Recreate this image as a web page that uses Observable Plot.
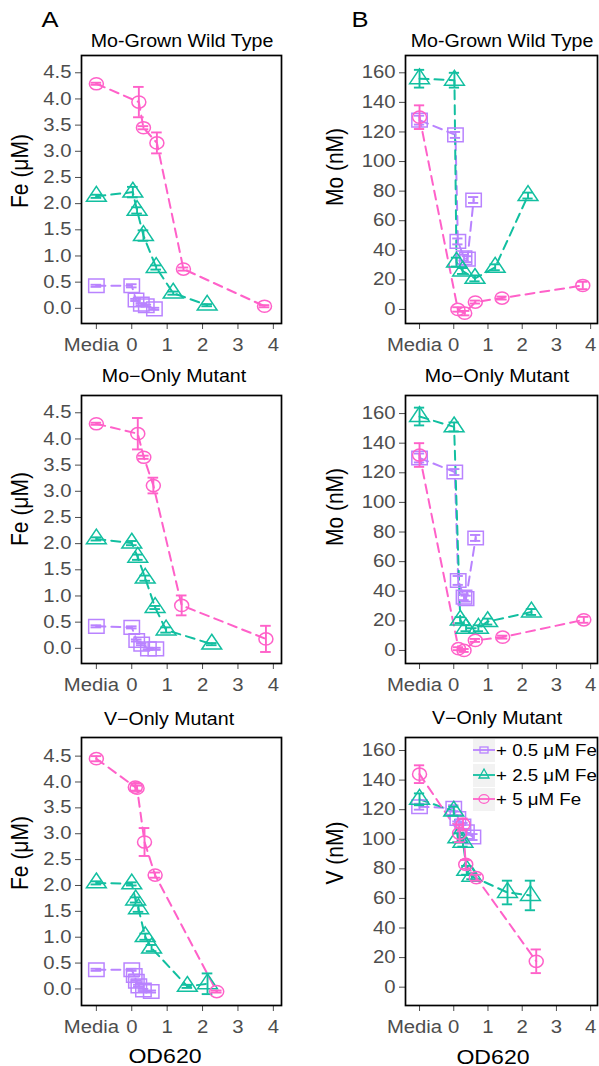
<!DOCTYPE html>
<html><head><meta charset="utf-8">
<script src="https://cdn.jsdelivr.net/npm/d3@7"></script>
<script src="https://cdn.jsdelivr.net/npm/@observablehq/plot@0.6"></script>
<style>
body{margin:0;background:#fff;}
#wrap{position:relative;width:599px;height:1066px;overflow:hidden;font-family:"Liberation Sans",Arial,Helvetica,sans-serif;background:#fff;}
.lbl{position:absolute;white-space:nowrap;color:#000;line-height:1;}
.pl{position:absolute;}
</style></head><body><div id="wrap"></div><script>
// ---------- shared ----------
const xTicks = [-1, 0, 1, 2, 3, 4];
const xTickLabels = ["Media", "0", "1", "2", "3", "4"];
const feTicks = [0, 0.5, 1, 1.5, 2, 2.5, 3, 3.5, 4, 4.5];
const nmTicks = [0, 20, 40, 60, 80, 100, 120, 140, 160];
const seriesNames = ["+ 0.5 μM Fe", "+ 2.5 μM Fe", "+ 5 μM Fe"];
const seriesColors = ["#B983FF", "#12BFA0", "#FF61C9"];
const panelTitles = ["Mo-Grown Wild Type", "Mo−Only Mutant", "V−Only Mutant"];

// ---------- A1: Fe, Mo-Grown Wild Type ----------
const a1_p05_x = [-1, 0.0, 0.12, 0.27, 0.41, 0.64];
const a1_p05_y = [0.43, 0.43, 0.16, 0.08, 0.05, -0.01];
const a1_p05_e = [0.02, 0.03, 0.02, 0.02, 0.02, 0.02];
const a1_p25_x = [-1, 0.03, 0.15, 0.33, 0.69, 1.17, 2.13];
const a1_p25_y = [2.14, 2.22, 1.87, 1.39, 0.78, 0.29, 0.06];
const a1_p25_e = [0.03, 0.1, 0.06, 0.1, 0.04, 0.03, 0.02];
const a1_p5_x = [-1, 0.2, 0.33, 0.71, 1.46, 3.75];
const a1_p5_y = [4.29, 3.94, 3.45, 3.16, 0.75, 0.04];
const a1_p5_e = [0.02, 0.29, 0.03, 0.2, 0.03, 0.02];

// ---------- A2: Fe, Mo-Only Mutant ----------
const a2_p05_x = [-1, 0.0, 0.14, 0.28, 0.47, 0.68];
const a2_p05_y = [0.42, 0.40, 0.15, 0.08, -0.01, -0.01];
const a2_p05_e = [0.02, 0.02, 0.02, 0.02, 0.02, 0.02];
const a2_p25_x = [-1, 0.0, 0.17, 0.38, 0.66, 0.97, 2.26];
const a2_p25_y = [2.09, 2.01, 1.74, 1.34, 0.78, 0.35, 0.08];
const a2_p25_e = [0.03, 0.04, 0.05, 0.05, 0.03, 0.05, 0.02];
const a2_p5_x = [-1, 0.17, 0.34, 0.61, 1.41, 3.79];
const a2_p5_y = [4.29, 4.1, 3.65, 3.11, 0.82, 0.18];
const a2_p5_e = [0.02, 0.3, 0.03, 0.15, 0.19, 0.25];

// ---------- A3: Fe, V-Only Mutant ----------
const a3_p05_x = [-1, 0.0, 0.07, 0.13, 0.2, 0.33, 0.55];
const a3_p05_y = [0.37, 0.37, 0.26, 0.15, 0.06, -0.02, -0.05];
const a3_p05_e = [0.02, 0.02, 0.02, 0.02, 0.02, 0.02, 0.02];
const a3_p25_x = [-1, 0.0, 0.11, 0.19, 0.38, 0.56, 1.57, 2.14];
const a3_p25_y = [2.05, 2.03, 1.72, 1.55, 1.01, 0.79, 0.05, 0.1];
const a3_p25_e = [0.03, 0.03, 0.05, 0.06, 0.06, 0.06, 0.03, 0.2];
const a3_p5_x = [-1, 0.1, 0.15, 0.36, 0.66, 2.4];
const a3_p5_y = [4.45, 3.9, 3.88, 2.84, 2.2, -0.05];
const a3_p5_e = [0.05, 0.07, 0.05, 0.27, 0.05, 0.02];

// ---------- B1: Mo, Mo-Grown Wild Type ----------
const b1_p05_x = [-1, 0.05, 0.12, 0.3, 0.4, 0.58];
const b1_p05_y = [128, 118, 46, 35, 34, 74];
const b1_p05_e = [3, 2, 2, 2, 2, 2];
const b1_p25_x = [-1, 0.02, 0.08, 0.26, 0.62, 1.21, 2.17];
const b1_p25_y = [156, 155, 32, 26, 21, 28.5, 77];
const b1_p25_e = [6, 5, 3, 2, 2, 2, 2];
const b1_p5_x = [-1, 0.12, 0.32, 0.63, 1.41, 3.77];
const b1_p5_y = [130, 0, -2.5, 5, 7.7, 16.2];
const b1_p5_e = [8, 1.5, 1.5, 1, 1, 2.5];

// ---------- B2: Mo, Mo-Only Mutant ----------
const b2_p05_x = [-1, 0.03, 0.13, 0.3, 0.36, 0.64];
const b2_p05_y = [130, 120.5, 47.3, 36, 35, 76];
const b2_p05_e = [3, 2, 3, 2, 2, 2];
const b2_p25_x = [-1, 0.01, 0.19, 0.36, 0.72, 0.99, 2.27];
const b2_p25_y = [158, 151, 20.5, 15, 15, 19.5, 26];
const b2_p25_e = [6, 3, 2, 2, 2, 2, 2];
const b2_p5_x = [-1, 0.14, 0.3, 0.63, 1.43, 3.8];
const b2_p5_y = [132, 1.2, 0, 6.8, 9, 20.7];
const b2_p5_e = [8, 1, 1, 1, 1, 2];

// ---------- B3: V, V-Only Mutant ----------
const b3_p05_x = [-1, 0.0, 0.12, 0.27, 0.37, 0.56];
const b3_p05_y = [122, 121, 114, 109, 105, 101.5];
const b3_p05_e = [2, 2, 2, 2, 2, 2];
const b3_p25_x = [-1, 0.0, 0.12, 0.27, 0.38, 0.53, 1.57, 2.24];
const b3_p25_y = [127, 119, 101, 98, 79, 75, 64, 62];
const b3_p25_e = [4, 3, 3, 3, 3, 2, 8, 10];
const b3_p5_x = [-1, 0.17, 0.27, 0.35, 0.66, 2.41];
const b3_p5_y = [144, 104, 110, 83, 74, 17.5];
const b3_p5_e = [6, 6, 4, 3, 2, 8];

// ---------- symbols (slightly wide, like the reference) ----------
const symSquare = {draw(c){const w=7.7,h=6.8;c.moveTo(-w,-h);c.lineTo(w,-h);c.lineTo(w,h);c.lineTo(-w,h);c.closePath();}};
const symTriangle = {draw(c){const w=9.9,h=14.8;c.moveTo(0,-2*h/3);c.lineTo(w,h/3);c.lineTo(-w,h/3);c.closePath();}};
const symCircle = {draw(c){const rx=7.0,ry=6.1,k=0.5523;c.moveTo(rx,0);c.bezierCurveTo(rx,k*ry,k*rx,ry,0,ry);c.bezierCurveTo(-k*rx,ry,-rx,k*ry,-rx,0);c.bezierCurveTo(-rx,-k*ry,-k*rx,-ry,0,-ry);c.bezierCurveTo(k*rx,-ry,rx,-k*ry,rx,0);c.closePath();}};
const symbols = [symSquare, symTriangle, symCircle];

const SX = 1.16;
const FONT = '"Liberation Sans",Arial,Helvetica,sans-serif';
const wrap = document.getElementById("wrap");

function rows(xs, ys, es, s){ return xs.map((x,i)=>({series:s, x, y:ys[i], e:es[i]})); }

function panel(cfg){
  const mt = 10, mb = 40, fh = 268;
  const marks = [];
  const sets = cfg.series.map((s,i)=>rows(s[0], s[1], s[2], i));
  sets.forEach((d,i)=>{
    marks.push(Plot.line(d,{x:"x",y:"y",stroke:seriesColors[i],strokeWidth:2,strokeDasharray:"9,6"}));
  });
  sets.forEach((d,i)=>{
    marks.push(Plot.dot(d,{x:"x",y:"y",symbol:symbols[i],stroke:seriesColors[i],strokeWidth:1.5,fill:"none"}));
    marks.push(Plot.ruleX(d,{x:"x",y1:r=>r.y-r.e,y2:r=>r.y+r.e,stroke:seriesColors[i],strokeWidth:1.9}));
    marks.push(Plot.ruleY(d,{y:r=>r.y+r.e,x1:r=>r.x-cfg.cap,x2:r=>r.x+cfg.cap,stroke:seriesColors[i],strokeWidth:1.9}));
    marks.push(Plot.ruleY(d,{y:r=>r.y-r.e,x1:r=>r.x-cfg.cap,x2:r=>r.x+cfg.cap,stroke:seriesColors[i],strokeWidth:1.9}));
  });
  marks.push(Plot.frame({stroke:"black",strokeWidth:1.7}));
  const svg = Plot.plot({
    width: cfg.width, height: mt+fh+mb,
    marginLeft: cfg.ml, marginRight: cfg.mr, marginTop: mt, marginBottom: mb,
    style: {fontFamily: FONT, fontSize: "17.5px", color: "#4D4D4D", background: "transparent", overflow: "visible"},
    x: {domain: cfg.xDomain, ticks: xTicks, tickFormat: d => xTickLabels[xTicks.indexOf(d)], label: null, tickSize: 6, tickPadding: 9},
    y: {domain: cfg.yDomain, ticks: cfg.yTicks, tickFormat: cfg.yFormat, label: null, tickSize: 6, tickPadding: 4},
    marks
  });
  svg.querySelectorAll("text").forEach(t=>{
    let tr = t.getAttribute("transform") || "";
    const x = t.getAttribute("x");
    if (x !== null && !isNaN(+x)) { t.removeAttribute("x"); tr += ` translate(${x},0)`; }
    if (t.textContent === "Media") tr += " translate(-5,0)";
    t.setAttribute("transform", tr + ` scale(${SX},1)`);
  });
  svg.classList.add("pl");
  svg.style.left = cfg.left + "px";
  svg.style.top = (cfg.top - mt) + "px";
  wrap.appendChild(svg);
}

function label(text, cx, cy, size, opts={}){
  const d = document.createElement("div");
  d.className = "lbl";
  d.textContent = text;
  d.style.fontSize = size + "px";
  d.style.left = cx + "px";
  d.style.top = cy + "px";
  const s = opts.sx || SX;
  d.style.transform = opts.rot ? `translate(-50%,-50%) rotate(-90deg) scaleY(${s})` : `translate(-50%,-50%) scaleX(${s})`;
  wrap.appendChild(d);
}

const fmtFe = d3.format(".1f");
const rowTops = [55, 395, 737];
const aDomX = [-1.42, 4.23], bDomX = [-1.41, 4.2];
const A = {left:0, width:300, ml:81, mr:19, xDomain:aDomX, yTicks:feTicks, yFormat:fmtFe, cap:0.15};
const B = {left:300, width:299, ml:105, mr:2, xDomain:bDomX, yTicks:nmTicks, yFormat:d=>d, cap:0.15};

panel({...A, top:rowTops[0], yDomain:[-0.29,4.83], series:[[a1_p05_x,a1_p05_y,a1_p05_e],[a1_p25_x,a1_p25_y,a1_p25_e],[a1_p5_x,a1_p5_y,a1_p5_e]]});
panel({...A, top:rowTops[1], yDomain:[-0.29,4.83], series:[[a2_p05_x,a2_p05_y,a2_p05_e],[a2_p25_x,a2_p25_y,a2_p25_e],[a2_p5_x,a2_p5_y,a2_p5_e]]});
panel({...A, top:rowTops[2], yDomain:[-0.32,4.86], series:[[a3_p05_x,a3_p05_y,a3_p05_e],[a3_p25_x,a3_p25_y,a3_p25_e],[a3_p5_x,a3_p5_y,a3_p5_e]]});
panel({...B, top:rowTops[0], yDomain:[-9.5,171.7], series:[[b1_p05_x,b1_p05_y,b1_p05_e],[b1_p25_x,b1_p25_y,b1_p25_e],[b1_p5_x,b1_p5_y,b1_p5_e]]});
panel({...B, top:rowTops[1], yDomain:[-8.8,172.2], series:[[b2_p05_x,b2_p05_y,b2_p05_e],[b2_p25_x,b2_p25_y,b2_p25_e],[b2_p5_x,b2_p5_y,b2_p5_e]]});
panel({...B, top:rowTops[2], yDomain:[-12.4,168.8], series:[[b3_p05_x,b3_p05_y,b3_p05_e],[b3_p25_x,b3_p25_y,b3_p25_e],[b3_p5_x,b3_p5_y,b3_p5_e]]});

// panel letters
label("A", 50, 20, 22);
label("B", 360, 20, 22);
// titles
label(panelTitles[0], 182, 41.5, 17.5, {sx:1.12});
label(panelTitles[0], 502, 41.5, 17.5, {sx:1.12});
label(panelTitles[1], 174, 377, 17.5, {sx:1.12});
label(panelTitles[1], 497, 377, 17.5, {sx:1.12});
label(panelTitles[2], 169, 720, 17.5, {sx:1.12});
label(panelTitles[2], 497, 719, 17.5, {sx:1.12});
// y axis titles
label("Fe (μM)", 19.5, 171, 21, {rot:true, sx:1.12});
label("Fe (μM)", 20, 509, 21, {rot:true, sx:1.12});
label("Fe (μM)", 20, 853, 21, {rot:true, sx:1.12});
label("Mo (nM)", 335, 167, 21, {rot:true, sx:1.12});
label("Mo (nM)", 335, 507, 21, {rot:true, sx:1.12});
label("V (nM)", 335, 853, 21, {rot:true, sx:1.12});
// x axis titles
label("OD620", 165, 1055, 21, {sx:1.1});
label("OD620", 492.5, 1056, 21, {sx:1.1});

// legend inside B3
const legKeys = [
  `<rect x="7" y="8" width="8" height="6" fill="none" stroke="${seriesColors[0]}" stroke-width="1.3"/>`,
  `<path d="M11,5 L16,14 L6,14 Z" fill="none" stroke="${seriesColors[1]}" stroke-width="1.3"/>`,
  `<ellipse cx="11" cy="11" rx="5" ry="4.3" fill="none" stroke="${seriesColors[2]}" stroke-width="1.3"/>`
];
const legY = [750, 775, 799];
seriesNames.forEach((name,i)=>{
  const k = document.createElement("div");
  k.style.cssText = `position:absolute;left:473px;top:${legY[i]-11.5}px;width:22px;height:23px;`;
  k.innerHTML = `<svg width="22" height="23"><rect width="22" height="23" fill="#F2F2F2"/><line x1="0" x2="22" y1="11" y2="11" stroke="${seriesColors[i]}" stroke-width="1.8"/>${legKeys[i]}</svg>`;
  wrap.appendChild(k);
  const t = document.createElement("div");
  t.className = "lbl";
  t.textContent = name;
  t.style.cssText += `font-size:16.3px;left:496px;top:${legY[i]}px;transform:translateY(-50%) scaleX(1.15);transform-origin:left center;`;
  wrap.appendChild(t);
});
</script></body></html>
